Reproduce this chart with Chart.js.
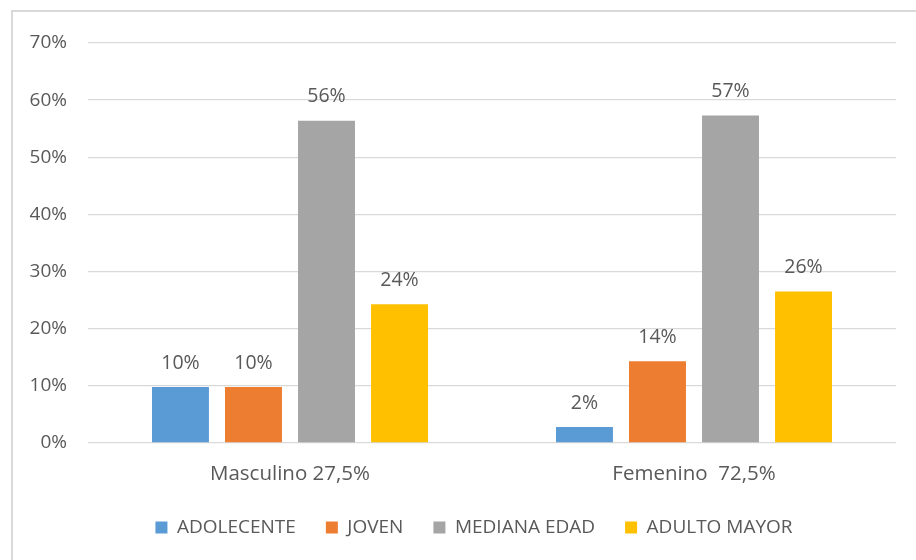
<!DOCTYPE html>
<html lang="es">
  <head>
    <meta charset="UTF-8" />
    <title>Grupos de edad por sexo</title>
    <script src="https://cdn.jsdelivr.net/npm/chart.js"></script>
    <style>
      body {
        margin: 0;
        background: #ffffff;
        overflow: hidden;
      }
      .frame {
        position: absolute;
        left: 11px;
        top: 10px;
        width: 940px;
        height: 600px;
        border: 2px solid #d9d9d9;
      }
      .chart-box {
        position: absolute;
        left: 0;
        top: 0;
        width: 916px;
        height: 560px;
      }
    </style>
  </head>
  <body>
    <div class="frame"></div>
    <div class="chart-box">
      <canvas id="edadChart"></canvas>
    </div>

    <script>
      // data
      const categories = ["Masculino 27,5%", "Femenino  72,5%"];
      const seriesNames = ["ADOLECENTE", "JOVEN", "MEDIANA EDAD", "ADULTO MAYOR"];
      const adolecente = [9.8, 2.8];
      const joven = [9.8, 14.3];
      const medianaEdad = [56.4, 57.3];
      const adultoMayor = [24.3, 26.5];
      // labels as printed on the chart
      const adolecenteLabels = ["10%", "2%"];
      const jovenLabels = ["10%", "14%"];
      const medianaEdadLabels = ["56%", "57%"];
      const adultoMayorLabels = ["24%", "26%"];
      const yMin = 0;
      const yMax = 70;
      const yStep = 10;

      const textColor = "#595959";
      Chart.defaults.font.family = "'Open Sans', sans-serif";
      Chart.defaults.font.size = 19;
      Chart.defaults.color = textColor;

      // values printed above each bar
      const barLabels = {
        id: "barLabels",
        afterDatasetsDraw(chart) {
          const ctx = chart.ctx;
          ctx.save();
          ctx.font = "19.5px 'Open Sans', sans-serif";
          ctx.fillStyle = textColor;
          ctx.textAlign = "center";
          ctx.textBaseline = "middle";
          chart.data.datasets.forEach((ds, i) => {
            chart.getDatasetMeta(i).data.forEach((bar, j) => {
              ctx.fillText(ds.shownLabels[j], bar.x, bar.y - 24);
            });
          });
          ctx.restore();
        },
      };

      // the legend in the original sits a bit right of the canvas centre
      const legendShift = {
        id: "legendShift",
        afterLayout(chart) {
          chart.legend.left += 25;
        },
      };

      new Chart(document.getElementById("edadChart"), {
        type: "bar",
        data: {
          labels: categories,
          datasets: [
            { label: seriesNames[0], data: adolecente, shownLabels: adolecenteLabels, backgroundColor: "#5b9bd5" },
            { label: seriesNames[1], data: joven, shownLabels: jovenLabels, backgroundColor: "#ed7d31" },
            { label: seriesNames[2], data: medianaEdad, shownLabels: medianaEdadLabels, backgroundColor: "#a5a5a5" },
            { label: seriesNames[3], data: adultoMayor, shownLabels: adultoMayorLabels, backgroundColor: "#ffc000" },
          ],
        },
        options: {
          responsive: true,
          maintainAspectRatio: false,
          animation: false,
          categoryPercentage: 0.723,
          barPercentage: 0.78,
          layout: {
            padding: { left: 27, right: 20, top: 43, bottom: 13 },
          },
          plugins: {
            tooltip: { enabled: false },
            legend: {
              position: "bottom",
              labels: {
                boxWidth: 12,
                boxHeight: 12,
                padding: 30,
                color: textColor,
                font: { size: 19 },
              },
            },
          },
          scales: {
            x: {
              grid: { display: false, drawTicks: false },
              border: { display: false },
              ticks: { padding: 19, color: textColor, font: { size: 20.5 } },
              afterFit(scale) {
                scale.height = 45;
              },
            },
            y: {
              min: yMin,
              max: yMax,
              grid: { color: "#d9d9d9", lineWidth: 1.3, drawTicks: false },
              border: { display: false },
              ticks: {
                stepSize: yStep,
                padding: 21,
                color: textColor,
                callback: (v) => v + "%",
              },
              afterFit(scale) {
                scale.width = 61;
              },
            },
          },
        },
        plugins: [barLabels, legendShift],
      });
    </script>
  </body>
</html>
